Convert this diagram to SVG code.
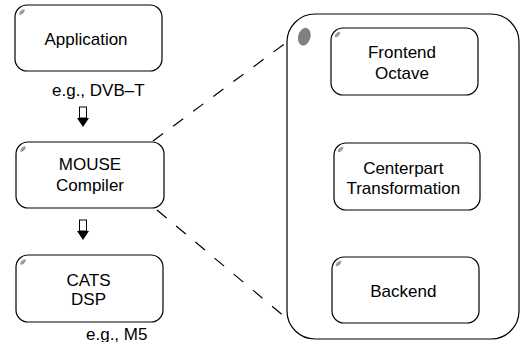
<svg xmlns="http://www.w3.org/2000/svg" width="521" height="342" viewBox="0 0 521 342">
<defs>
<style>
.box{fill:#fff;stroke:#000;stroke-width:1.2}
.mark{fill:#9a9a9a}
.t{font-family:"Liberation Sans",Arial,Helvetica,sans-serif;font-size:17px;fill:#000}
.c{text-anchor:middle}
.dash{fill:none;stroke:#000;stroke-width:1.2;stroke-dasharray:12.5 12.5}
.ar-r{fill:#fff;stroke:#000;stroke-width:1}
.ar-t{fill:#000}
</style>
<g id="arrow">
<rect class="ar-r" x="-3.5" y="0" width="7" height="11"/>
<path class="ar-t" d="M-6,11 L6,11 L0,20 Z"/>
</g>
</defs>
<rect width="521" height="342" fill="#fff"/>
<g id="connectors">
<line class="dash" x1="153" y1="141" x2="287" y2="42"/>
<line class="dash" x1="157" y1="210" x2="291" y2="322"/>
<use href="#arrow" x="83" y="107"/>
<use href="#arrow" x="83" y="220"/>
<use href="#arrow" x="401" y="107"/>
<use href="#arrow" x="399" y="221"/>
</g>
<g id="container">
<rect class="box" x="287" y="14" width="232" height="325" rx="28" ry="28"/>
<ellipse fill="#808080" cx="304.3" cy="36.7" rx="6.2" ry="9" transform="rotate(15 304.3 36.7)"/>
</g>
<g id="application">
<rect class="box" x="15" y="5" width="147" height="66" rx="12"/>
<ellipse class="mark" cx="22" cy="12" rx="3.5" ry="1.6" transform="rotate(-45 22 12)"/>
<text class="t c" x="86" y="45">Application</text>
</g>
<text class="t" x="52" y="96">e.g., DVB–T</text>
<g id="mouse">
<rect class="box" x="16" y="142" width="148" height="66" rx="12"/>
<ellipse class="mark" cx="23" cy="149" rx="3.5" ry="1.6" transform="rotate(-45 23 149)"/>
<text class="t c" x="90" y="170">MOUSE</text>
<text class="t c" x="90" y="190.5">Compiler</text>
</g>
<g id="cats">
<rect class="box" x="16" y="255" width="147" height="67" rx="12"/>
<ellipse class="mark" cx="23" cy="262" rx="3.5" ry="1.6" transform="rotate(-45 23 262)"/>
<text class="t c" x="88.5" y="285.5">CATS</text>
<text class="t c" x="88.5" y="305">DSP</text>
</g>
<text class="t" x="86" y="340">e.g., M5</text>
<g id="frontend">
<rect class="box" x="331" y="28" width="147" height="67" rx="12"/>
<ellipse class="mark" cx="337.5" cy="34.5" rx="3.5" ry="1.6" transform="rotate(-45 337.5 34.5)"/>
<text class="t c" x="402" y="58.3">Frontend</text>
<text class="t c" x="402" y="79">Octave</text>
</g>
<g id="centerpart">
<rect class="box" x="334" y="143" width="146" height="67" rx="12"/>
<ellipse class="mark" cx="340.5" cy="149.5" rx="3.5" ry="1.6" transform="rotate(-45 340.5 149.5)"/>
<text class="t c" x="403.3" y="174">Centerpart</text>
<text class="t c" x="403.3" y="194">Transformation</text>
</g>
<g id="backend">
<rect class="box" x="332" y="257" width="147" height="66" rx="12"/>
<ellipse class="mark" cx="338.5" cy="263.5" rx="3.5" ry="1.6" transform="rotate(-45 338.5 263.5)"/>
<text class="t c" x="403.3" y="297">Backend</text>
</g>
</svg>
